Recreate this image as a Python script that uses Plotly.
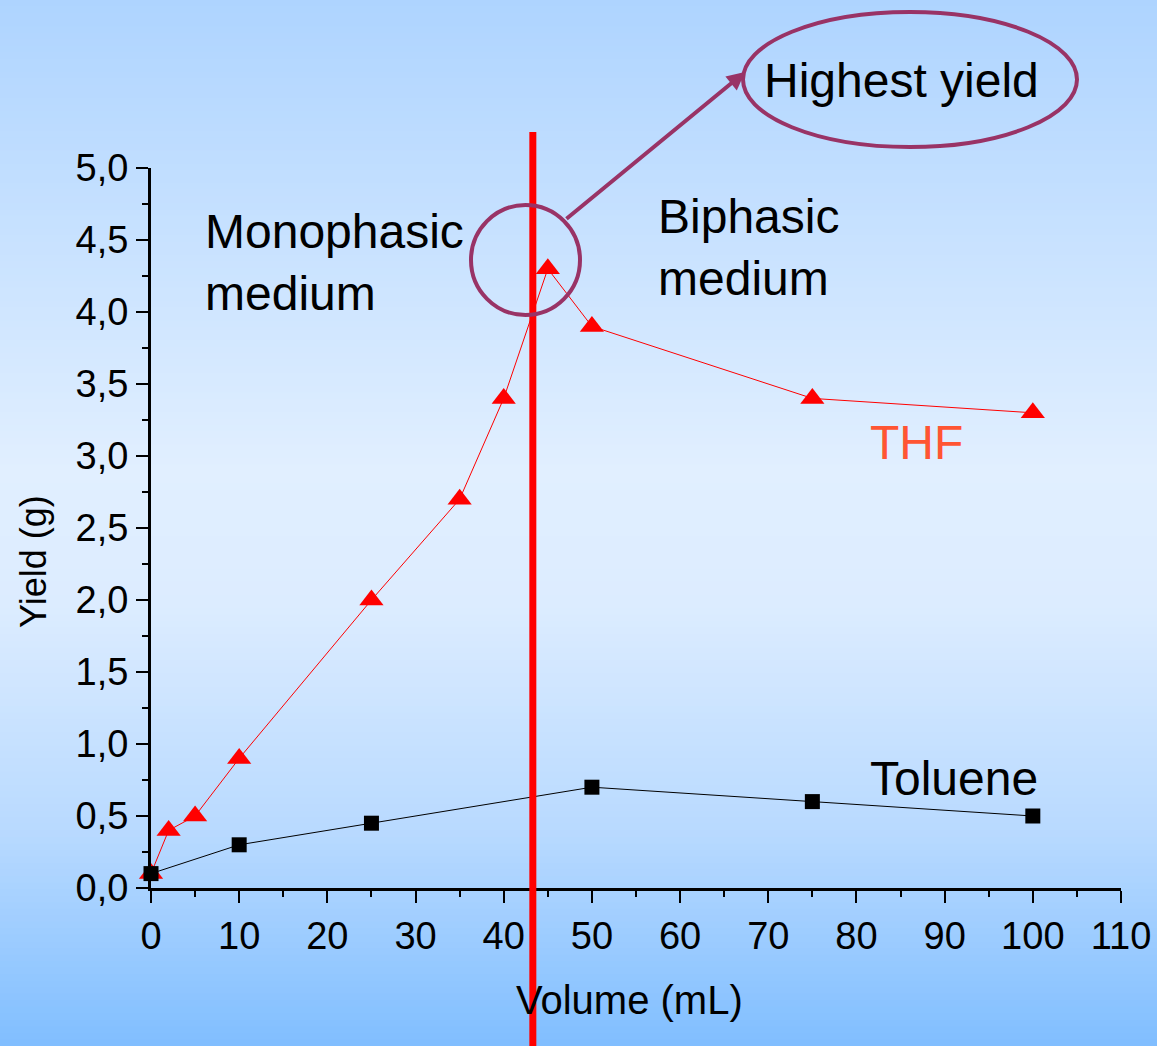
import plotly.graph_objects as go

# ---- data ----
thf_volume = [0, 2, 5, 10, 25, 35, 40, 45, 50, 75, 100]
thf_yield = [0.1, 0.4, 0.5, 0.9, 2.0, 2.7, 3.4, 4.3, 3.9, 3.4, 3.3]
tol_volume = [0, 10, 25, 50, 75, 100]
tol_yield = [0.1, 0.3, 0.45, 0.7, 0.6, 0.5]
phase_boundary = 43.3
x_ticks = list(range(0, 111, 10))
y_ticks = [0.0, 0.5, 1.0, 1.5, 2.0, 2.5, 3.0, 3.5, 4.0, 4.5, 5.0]

W, H = 1157, 1046
L, R, T, B = 151, 36, 168, 158
PW, PH = W - L - R, H - T - B
XMAX, YMAX = 110, 5.0


def px(xp):
    return (xp - L) / PW


def py(yp):
    return (H - B - yp) / PH


FONT = "Arial, Liberation Sans, sans-serif"
PURPLE = "#993366"

fig = go.Figure()
fig.add_trace(go.Scatter(
    x=thf_volume, y=thf_yield, mode="lines+markers", name="THF",
    line=dict(color="red", width=1),
    marker=dict(symbol="triangle-up", size=21, color="red"),
    cliponaxis=False,
))
fig.add_trace(go.Scatter(
    x=tol_volume, y=tol_yield, mode="lines+markers", name="Toluene",
    line=dict(color="black", width=1),
    marker=dict(symbol="square", size=15, color="black"),
    cliponaxis=False,
))

shapes = []
# background gradient (top -> middle light -> bottom)
stops = [(0.0, (174, 212, 255)), (0.45, (225, 239, 255)), (0.58, (220, 236, 255)),
         (0.8, (183, 217, 255)), (1.0, (128, 190, 255))]


def col(t):
    for i in range(len(stops) - 1):
        t0, c0 = stops[i]
        t1, c1 = stops[i + 1]
        if t0 <= t <= t1:
            f = (t - t0) / (t1 - t0)
            return "rgb(%d,%d,%d)" % tuple(round(c0[k] + (c1[k] - c0[k]) * f) for k in range(3))
    return "rgb(128,190,255)"


N = 160
for i in range(N):
    y0p = H * i / N
    y1p = H * (i + 1) / N + 1
    shapes.append(dict(type="rect", xref="paper", yref="paper",
                       x0=px(0), x1=px(W), y0=py(y1p), y1=py(y0p),
                       fillcolor=col((i + 0.5) / N), line=dict(width=0), layer="below"))

# red phase boundary line
shapes.append(dict(type="line", xref="paper", yref="paper",
                   x0=phase_boundary / XMAX, x1=phase_boundary / XMAX,
                   y0=py(H + 5), y1=py(132), line=dict(color="red", width=7)))
# circle around highest yield
shapes.append(dict(type="circle", xref="paper", yref="paper",
                   x0=px(471), x1=px(580), y0=py(315), y1=py(205),
                   line=dict(color=PURPLE, width=4)))
# ellipse around label
shapes.append(dict(type="circle", xref="paper", yref="paper",
                   x0=px(743), x1=px(1077), y0=py(147), y1=py(12),
                   line=dict(color=PURPLE, width=4)))


def txt(x, y, text, size=48, color="black", xanchor="left", yanchor="middle", **kw):
    return dict(x=px(x), y=py(y), xref="paper", yref="paper", text=text,
                xanchor=xanchor, yanchor=yanchor, showarrow=False, align="left",
                font=dict(size=size, color=color, family=FONT), **kw)


annotations = [
    dict(x=px(745), y=py(72), xref="paper", yref="paper", text="",
         showarrow=True, ax=565 - 745, ay=220 - 72, arrowcolor=PURPLE,
         arrowwidth=4, arrowhead=2, arrowsize=0.9, standoff=0),
    txt(901, 80, "Highest yield", xanchor="center"),
    txt(203, 262, "Monophasic<br>medium"),
    txt(656, 247, "Biphasic<br>medium"),
    txt(868, 442, "THF", color="#FF5533"),
    txt(868, 778, "Toluene"),
    txt(33, 562, "Yield (g)", size=36, xanchor="center", textangle=-90),
    txt(629, 1000, "Volume (mL)", size=40, xanchor="center"),
    txt(592, 3, "70°C 100 bar 1 hour", size=34, xanchor="center", yanchor="bottom"),
]

fig.update_layout(
    width=W, height=H,
    margin=dict(l=L, r=R, t=T, b=B, pad=0, autoexpand=False),
    paper_bgcolor="rgb(128,190,255)",
    plot_bgcolor="rgba(0,0,0,0)",
    showlegend=False,
    separators=",.",
    font=dict(family=FONT, color="black"),
    shapes=shapes,
    annotations=annotations,
)
fig.update_xaxes(
    range=[0, XMAX], tickvals=x_ticks, ticks="outside", ticklen=12, tickwidth=2,
    tickcolor="black", showline=True, linecolor="black", linewidth=3, automargin=False,
    showgrid=False, zeroline=False, tickfont=dict(size=38, family=FONT, color="black"),
    minor=dict(dtick=5, ticks="outside", ticklen=6, tickwidth=2, tickcolor="black", showgrid=False),
)
fig.update_yaxes(
    range=[0, YMAX], tickvals=y_ticks, tickformat=".1f", ticks="outside", ticklen=12,
    tickwidth=2, tickcolor="black", showline=True, linecolor="black", linewidth=3, automargin=False,
    showgrid=False, zeroline=False, tickfont=dict(size=38, family=FONT, color="black"),
    minor=dict(dtick=0.25, ticks="outside", ticklen=6, tickwidth=2, tickcolor="black", showgrid=False),
)

fig.write_html("out.html", config={"displayModeBar": False},
               post_script="document.body.style.margin='0';document.body.style.overflow='hidden';")
